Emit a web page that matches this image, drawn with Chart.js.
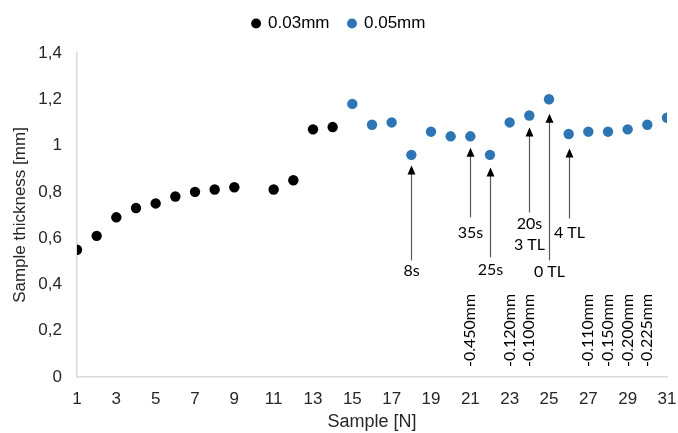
<!DOCTYPE html>
<html><head><meta charset="utf-8">
<script src="https://cdn.jsdelivr.net/npm/chart.js@4/dist/chart.umd.min.js"></script>
<style>html,body{margin:0;padding:0;background:#fff}canvas{display:block}</style>
</head><body>
<canvas id="c" width="678" height="433"></canvas>
<script>
// ---- data ----
const samples003 = [1,2,3,4,5,6,7,8,9,11,12,13,14];
const values003  = [0.55,0.61,0.69,0.73,0.75,0.78,0.80,0.81,0.82,0.81,0.85,1.07,1.08];
const samples005 = [15,16,17,18,19,20,21,22,23,24,25,26,27,28,29,30,31];
const values005  = [1.18,1.09,1.10,0.96,1.06,1.04,1.04,0.96,1.10,1.13,1.20,1.05,1.06,1.06,1.07,1.09,1.12];
const seriesNames = ["0.03mm","0.05mm"];
const yTicks = [0,0.2,0.4,0.6,0.8,1,1.2,1.4];
const xTicks = [1,3,5,7,9,11,13,15,17,19,21,23,25,27,29,31];

// annotations (arrows): sample, arrow tip value, arrow base value, label lines, label values
const arrowSamples = [18,21,22,24,25,26];
const arrowTips    = [0.914,0.991,0.905,1.078,1.138,0.987];
const arrowBases   = [0.504,0.690,0.517,0.711,0.504,0.685];
const arrowLabels  = [["8s"],["35s"],["25s"],["20s","3 TL"],["0 TL"],["4 TL"]];
const arrowLabelValues = [[0.457],[0.625],[0.461],[0.660,0.569],[0.453],[0.625]];

// rotated offset labels
const offsetSamples = [21,23,24,27,28,29,30];
const offsetLabels  = ["-0.450mm","-0.120mm","-0.100mm","-0.110mm","-0.150mm","-0.200mm","-0.225mm"];
const offsetBaseValue = 0.043;

const annotFont = '16px Lato, "Open Sans", sans-serif';
const axisFont = '"Liberation Sans", Arial, sans-serif';

const annotPlugin = {
  id: 'annot',
  afterInit(chart) {
    const lg = chart.legend;
    if (lg) {
      const origFit = lg.fit.bind(lg);
      lg.fit = function () { origFit(); this.height += 11; };
    }
  },
  afterDatasetsDraw(chart) {
    const ctx = chart.ctx, xs = chart.scales.x, ys = chart.scales.y;
    ctx.save();
    arrowSamples.forEach((s, i) => {
      const px = Math.round(xs.getPixelForValue(s)) + 0.5;
      const tip = ys.getPixelForValue(arrowTips[i]);
      const base = ys.getPixelForValue(arrowBases[i]);
      ctx.strokeStyle = '#595959';
      ctx.lineWidth = 1.2;
      ctx.beginPath();
      ctx.moveTo(px, base);
      ctx.lineTo(px, tip + 7);
      ctx.stroke();
      ctx.fillStyle = '#000';
      ctx.beginPath();
      ctx.moveTo(px, tip);
      ctx.lineTo(px - 4, tip + 9);
      ctx.lineTo(px + 4, tip + 9);
      ctx.closePath();
      ctx.fill();
      ctx.font = annotFont;
      ctx.textAlign = 'center';
      ctx.textBaseline = 'middle';
      arrowLabels[i].forEach((t, j) => {
        ctx.fillText(t, px, ys.getPixelForValue(arrowLabelValues[i][j]));
      });
    });
    offsetSamples.forEach((s, i) => {
      const px = xs.getPixelForValue(s);
      const py = ys.getPixelForValue(offsetBaseValue);
      ctx.save();
      ctx.translate(px, py);
      ctx.rotate(-Math.PI / 2);
      ctx.font = annotFont;
      ctx.fillStyle = '#000';
      ctx.textAlign = 'left';
      ctx.textBaseline = 'middle';
      ctx.fillText(offsetLabels[i], 0, 0);
      ctx.restore();
    });
    ctx.restore();
  }
};

const fmt = v => String(Number(v.toFixed(1))).replace('.', ',');

new Chart(document.getElementById('c'), {
  type: 'scatter',
  data: {
    datasets: [
      { label: seriesNames[0], data: samples003.map((s,i)=>({x:s,y:values003[i]})),
        backgroundColor: '#000000', borderColor: '#000000', pointRadius: 5.2, pointHoverRadius: 5.2, borderWidth: 0 },
      { label: seriesNames[1], data: samples005.map((s,i)=>({x:s,y:values005[i]})),
        backgroundColor: '#2E75B6', borderColor: '#2E75B6', pointRadius: 5.2, pointHoverRadius: 5.2, borderWidth: 0 }
    ]
  },
  options: {
    responsive: false,
    animation: false,
    devicePixelRatio: 1,
    layout: { padding: { top: -4, right: 0, left: 0, bottom: 0 } },
    plugins: {
      tooltip: { enabled: false },
      legend: {
        position: 'top',
        align: 'center',
        labels: {
          usePointStyle: true, pointStyle: 'circle',
          boxWidth: 7, boxHeight: 7, padding: 19,
          color: '#000', font: { family: axisFont, size: 17 }
        }
      }
    },
    scales: {
      x: {
        type: 'linear', min: 1, max: 31,
        afterBuildTicks: s => { s.ticks = xTicks.map(v => ({ value: v })); },
        afterFit: s => { s.height = 56; s.paddingRight = 11; },
        grid: { display: false, drawTicks: false },
        border: { display: true, color: '#d9d9d9', width: 1.5 },
        ticks: { color: '#262626', font: { family: axisFont, size: 17 }, padding: 12, maxRotation: 0, autoSkip: false },
        title: { display: true, text: 'Sample [N]', color: '#262626', font: { family: axisFont, size: 18 }, padding: { top: 0, bottom: 0 } }
      },
      y: {
        type: 'linear', min: 0, max: 1.4,
        afterBuildTicks: s => { s.ticks = yTicks.map(v => ({ value: v })); },
        afterFit: s => { s.width = 77; },
        grid: { display: false, drawTicks: false },
        border: { display: true, color: '#d9d9d9', width: 1.5 },
        ticks: { color: '#262626', font: { family: axisFont, size: 17 }, padding: 15, callback: v => fmt(v) },
        title: { display: true, text: 'Sample thickness [mm]', color: '#262626', font: { family: axisFont, size: 17 }, padding: { top: 10, bottom: 0 } }
      }
    }
  },
  plugins: [annotPlugin]
});
</script>
</body></html>
